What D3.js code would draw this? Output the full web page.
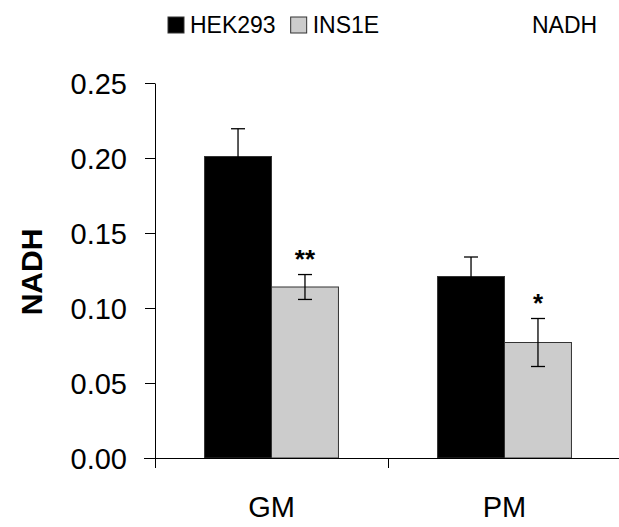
<!DOCTYPE html>
<html>
<head>
<meta charset="utf-8">
<script src="https://cdn.jsdelivr.net/npm/d3@7"></script>
<style>
  html, body { margin: 0; padding: 0; background: #fff; overflow: hidden; }
  svg { display: block; }
</style>
</head>
<body>
<div id="chart"></div>
<script>
var categories = ['GM', 'PM'];
var series = ['HEK293', 'INS1E'];
var colors = ['#000000', '#cccccc'];
var hekValues = [0.201, 0.121];
var hekErrors = [0.0185, 0.013];
var insValues = [0.114, 0.077];
var insErrors = [0.0083, 0.016];
var stars = ['**', '*'];
var yTicks = [0, 0.05, 0.10, 0.15, 0.20, 0.25];

var FONT = 'Arial, "Liberation Sans", sans-serif';
var OuterWidth = 619;
var OuterHeight = 527;
var margin = { left: 155, top: 83, right: 0, bottom: 69 };
var innerWidth = OuterWidth - margin.left - margin.right;
var innerHeight = OuterHeight - margin.top - margin.bottom;

var data = [];
categories.forEach(function (c, i) {
    data.push({ cat: c, s: series[0], v: hekValues[i], e: hekErrors[i], star: '' });
    data.push({ cat: c, s: series[1], v: insValues[i], e: insErrors[i], star: stars[i] });
});

var svg = d3.select('#chart').append('svg')
    .attr('width', OuterWidth)
    .attr('height', OuterHeight)
    .attr('font-family', FONT);

var g = svg.append('g')
    .attr('transform', 'translate(' + margin.left + ',' + margin.top + ')');

// the last category boundary sits just past the right edge
var plotWidth = innerWidth + 2;
var x0 = d3.scaleBand().domain(categories).range([0, plotWidth]).padding(0);
var x1 = d3.scaleBand().domain(series).range([0, x0.bandwidth()])
    .paddingInner(0).paddingOuter(0.74);
var y = d3.scaleLinear().domain([0, 0.25]).range([innerHeight, 0]);
var color = d3.scaleOrdinal().domain(series).range(colors);

// bars
g.selectAll('.bar')
    .data(data)
    .enter()
    .append('rect')
    .attr('class', 'bar')
    .attr('x', function (d) { return x0(d.cat) + x1(d.s); })
    .attr('y', function (d) { return y(d.v); })
    .attr('width', x1.bandwidth())
    .attr('height', function (d) { return innerHeight - y(d.v); })
    .attr('fill', function (d) { return color(d.s); })
    .attr('stroke', '#333')
    .attr('stroke-width', 1);

// error bars
var err = g.selectAll('.err')
    .data(data)
    .enter()
    .append('g')
    .attr('class', 'err')
    .attr('transform', function (d) {
        return 'translate(' + (x0(d.cat) + x1(d.s) + x1.bandwidth() / 2) + ',0)';
    });
err.append('line')
    .attr('y1', function (d) { return y(d.v - d.e); })
    .attr('y2', function (d) { return y(d.v + d.e); })
    .attr('stroke', '#000').attr('stroke-width', 1.3);
err.append('line')
    .attr('x1', -7).attr('x2', 7)
    .attr('y1', function (d) { return y(d.v + d.e); })
    .attr('y2', function (d) { return y(d.v + d.e); })
    .attr('stroke', '#000').attr('stroke-width', 1.3);
err.append('line')
    .attr('x1', -7).attr('x2', 7)
    .attr('y1', function (d) { return y(d.v - d.e); })
    .attr('y2', function (d) { return y(d.v - d.e); })
    .attr('stroke', '#000').attr('stroke-width', 1.3);

// significance stars
g.selectAll('.star')
    .data(data.filter(function (d) { return d.star; }))
    .enter()
    .append('text')
    .attr('class', 'star')
    .attr('x', function (d) { return x0(d.cat) + x1(d.s) + x1.bandwidth() / 2; })
    .attr('y', function (d) { return y(d.v + d.e) - 7; })
    .attr('text-anchor', 'middle')
    .attr('font-size', 26)
    .attr('font-weight', 'bold')
    .text(function (d) { return d.star; });

// y axis
var yAxisG = g.append('g')
    .call(d3.axisLeft(y)
        .tickValues(yTicks)
        .tickSize(10)
        .tickSizeOuter(0)
        .tickPadding(18)
        .tickFormat(d3.format('.2f')))
    .attr('font-size', 29)
    .attr('font-family', FONT);
yAxisG.selectAll('text').attr('fill', '#000').attr('dy', '0.35em');
yAxisG.selectAll('line, path').attr('stroke', '#000');

// x axis: ticks at category boundaries
var xb = d3.scaleLinear().domain([0, categories.length]).range([0, plotWidth]);
var xAxisG = g.append('g')
    .attr('transform', 'translate(0,' + innerHeight + ')')
    .call(d3.axisBottom(xb)
        .tickValues(d3.range(categories.length + 1))
        .tickSize(10)
        .tickSizeOuter(0)
        .tickFormat(''));
xAxisG.selectAll('text').remove();
xAxisG.selectAll('line, path').attr('stroke', '#000');
xAxisG.select('path').attr('d', 'M-11,0.5H' + innerWidth);

g.selectAll('.catlabel')
    .data(categories)
    .enter()
    .append('text')
    .attr('class', 'catlabel')
    .attr('x', function (d) { return x0(d) + x0.bandwidth() / 2; })
    .attr('y', innerHeight + 59)
    .attr('text-anchor', 'middle')
    .attr('font-size', 29)
    .text(function (d) { return d; });

// y label
svg.append('text')
    .attr('transform', 'translate(42,272) rotate(-90)')
    .attr('text-anchor', 'middle')
    .attr('font-size', 30)
    .attr('font-weight', 'bold')
    .text('NADH');

// legend
var lx = 168;
series.forEach(function (s, i) {
    svg.append('rect')
        .attr('x', lx).attr('y', 17)
        .attr('width', 16).attr('height', 16)
        .attr('fill', colors[i])
        .attr('stroke', '#333');
    var t = svg.append('text')
        .attr('x', lx + 22).attr('y', 33)
        .attr('font-size', 23)
        .text(s);
    lx += 22 + t.node().getComputedTextLength() + 15;
});

svg.append('text')
    .attr('x', 532).attr('y', 33)
    .attr('font-size', 23)
    .text('NADH');
</script>
</body>
</html>
